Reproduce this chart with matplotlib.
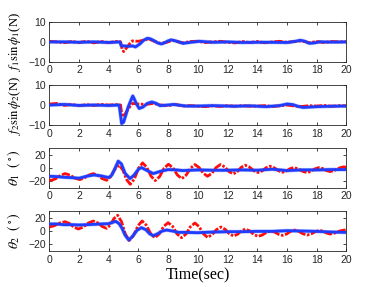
import matplotlib
matplotlib.use("Agg")
import matplotlib.pyplot as plt

# ---------------- data ----------------
t_f1_red = [0,0.5,1,1.5,2,2.5,3,3.5,4,4.5,4.8,4.9,5.0,5.2,5.4,5.6,6.0,6.4,6.7,7.0,7.5,8.0,8.3,8.7,9.0,9.5,10,10.5,11,11.5,12,12.5,13,13.5,14,14.5,15,15.5,16,16.5,17,17.5,18,18.5,19,19.5,20]
f1_red = [0.3,0,-0.4,0.2,-0.3,0.3,-0.5,0.2,-0.3,0.2,0,-3.5,-4.8,-3,-1,0.5,0.3,1,1.5,0.5,-0.8,0,0.8,0,-0.5,0.2,0.3,-0.3,0,0.3,-0.2,-0.5,0.2,-0.3,0.2,-0.4,0,0.3,-0.2,0.2,0.5,-0.4,0.2,-0.3,0.2,0,0.1]
t_f1_blue = [0,1,2,3,4,4.75,4.85,5.0,5.3,5.6,5.8,6.1,6.35,6.6,6.8,7.0,7.3,7.55,7.8,8.0,8.2,8.5,9.0,9.5,10.1,11,12,13,14,15,16,16.5,16.9,17.2,17.5,17.8,18.2,19,20]
f1_blue = [0,0,-0.2,0,-0.3,0,-2,-2,-2.2,-2,-2.5,-1,0.8,1.8,1.5,0.8,-0.5,-1,-0.3,0.5,1,0.5,-0.7,-0.2,0.3,-0.2,0,-0.3,-0.2,-0.2,-0.3,0.2,0.8,0.3,-0.7,-0.5,0,-0.1,0]

t_f2_red = [0,0.5,1,1.5,2,2.5,3,3.5,4,4.5,4.8,4.9,5.1,5.3,5.6,6.0,6.5,7.0,7.5,8,8.5,9,9.5,10,10.5,11,11.5,12,12.5,13,13.5,14,14.5,15,15.5,16,16.5,17,17.5,18,18.5,19,19.5,20]
f2_red = [0.5,0.8,-0.2,0.3,-0.3,0.2,-0.2,0.3,0,0.2,0,-5.8,-4.5,-2,0.8,0.5,0.3,0.8,0,-0.3,0.3,-0.5,-0.3,-0.6,-0.8,-0.4,-0.7,-0.3,-0.6,-0.3,-0.6,-0.5,-0.3,-0.7,-0.4,0,-0.5,-0.7,-0.3,-0.5,-0.2,-0.6,-0.3,-0.4]
t_f2_blue = [0,1,2,3,4,4.7,4.78,4.87,5.0,5.15,5.31,5.5,5.62,5.72,5.85,6.05,6.3,6.6,6.9,7.2,7.45,8.0,8.35,9.2,10.1,11,12.4,13.5,14.6,15.5,16.0,16.4,16.7,17.1,17.5,18,19,20]
f2_blue = [0,0.3,-0.2,0,-0.2,0,-4,-9.2,-8.5,-5,-1,2.5,4.5,3,0.8,-1.7,-1,0.8,1.5,0.8,-0.3,0,0.3,-0.5,-0.5,-0.3,-0.6,-0.4,-0.8,-0.3,0.5,0.2,-0.6,-1.2,-1,-0.8,-0.6,-0.5]

t_th1_red = [0,0.15,0.45,0.76,1.06,1.39,1.72,2.05,2.35,2.66,2.96,3.26,3.56,3.86,4.14,4.42,4.7,4.95,5.2,5.45,5.73,6.0,6.28,6.56,6.85,7.13,7.43,7.72,8.02,8.32,8.62,8.92,9.21,9.51,9.8,10.08,10.37,10.65,10.94,11.23,11.52,11.81,12.09,12.38,12.65,12.91,13.18,13.47,13.76,14.05,14.32,14.58,14.85,15.13,15.42,15.7,15.95,16.2,16.45,16.75,17.05,17.35,17.62,17.88,18.15,18.4,18.65,18.9,19.2,19.5,19.8,20]
th1_red = [-18,-18.5,-16,-11,-8.5,-10.75,-15.25,-17.5,-15.25,-10.75,-8.5,-11,-16,-18.5,-12.9,-1.6,4,-3.1,-17.4,-24.5,-16.5,-0.5,7.5,0.9,-12.4,-19,-12.9,-0.6,5.5,0.1,-10.6,-16,-10.75,-0.25,5,0.6,-8.1,-12.5,-8.1,0.6,5,1.5,-5.5,-9,-5.75,0.75,4,1.25,-4.25,-7,-4.6,0.1,2.5,0.25,-4.25,-6.5,-4.75,-1.25,0.5,-1.4,-5.1,-7,-5.1,-1.4,0.5,-1,-4,-5.5,-3.75,-0.25,1.5,1]
t_th1_blue = [0,0.5,1,1.5,2,2.5,3,3.5,4,4.2,4.4,4.64,4.85,5.1,5.43,5.7,6.0,6.2,6.5,7.0,7.5,8,8.5,9,10,11,12,13,14,15,16,17,18,19,20]
th1_blue = [-12.5,-13,-14,-14.5,-15.5,-12.5,-10.5,-12,-14.5,-11,-2,10,6,-8,-16,-11,-2,0.5,-3,-8.5,-5,-2.5,-3,-4,-3,-3.5,-3.5,-3,-3.5,-2,-4,-3,-3,-2.5,-2.5]

t_th2_red = [0,0.35,0.71,1.06,1.36,1.66,1.96,2.29,2.63,2.96,3.26,3.56,3.86,4.11,4.35,4.6,4.86,5.12,5.38,5.67,5.96,6.25,6.53,6.82,7.1,7.4,7.7,8.0,8.3,8.6,8.9,9.2,9.5,9.8,10.08,10.37,10.65,10.95,11.25,11.55,11.83,12.12,12.4,12.67,12.93,13.2,13.48,13.77,14.05,14.33,14.62,14.9,15.17,15.43,15.7,15.97,16.23,16.5,16.78,17.07,17.35,17.63,17.92,18.2,18.43,18.67,18.9,19.22,19.53,19.85,20]
th2_red = [6,8,12,14,11.25,5.75,3,6,12,15,12.25,6.75,4,8.9,18.6,23.5,14.1,-4.6,-14,-6.75,7.75,15,8.75,-3.75,-10,-4.4,6.9,12.5,6.9,-4.4,-10,-4.5,6.5,12,6.6,-4.1,-9.5,-5.6,2.1,6,2.6,-4.1,-7.5,-4.9,0.4,3,0.25,-5.25,-8,-6,-2,0,-1.6,-4.9,-6.5,-4.5,-0.5,1.5,-0.4,-4.1,-6,-4.25,-0.75,1,-0.4,-3.1,-4.5,-3,0,1.5,1]
t_th2_blue = [0,0.5,1,1.5,2,2.5,3,3.5,4,4.25,4.47,4.7,4.9,5.1,5.35,5.6,5.9,6.2,6.5,6.75,7.0,7.3,7.6,7.9,8.3,8.7,9.2,10,11,12,13,14,15,16,17,18,19,20]
th2_blue = [10.5,10.5,9.5,9.5,9,9.5,10,10.5,11,13,14.5,11,4,-6,-13.5,-8,1,5,2,-4,-7,-4,0,1.5,0,-2,-2,-2.5,-1.5,-1,-1,-0.5,-0.5,0.5,0,-0.5,-1.5,-2]

xticks = [0,2,4,6,8,10,12,14,16,18,20]
ylabels = [r'$f_1\sin\phi_1$(N)', r'$f_2\sin\phi_2$(N)', r'$\theta_1\ \ (^\circ)$', r'$\theta_2\ \ (^\circ)$']
ylims = [(-10,10),(-10,10),(-30,30),(-30,30)]
yticks = [[-10,0,10],[-10,0,10],[-20,0,20],[-20,0,20]]

# ---------------- plot ----------------
plt.rcParams['mathtext.fontset'] = 'stix'
plt.rcParams['font.family'] = ['Liberation Sans', 'DejaVu Sans']

fig = plt.figure(figsize=(3.82, 2.87), dpi=100)
bottoms = [0.784, 0.564, 0.345, 0.125]
series = [
    (t_f1_red, f1_red, t_f1_blue, f1_blue),
    (t_f2_red, f2_red, t_f2_blue, f2_blue),
    (t_th1_red, th1_red, t_th1_blue, th1_blue),
    (t_th2_red, th2_red, t_th2_blue, th2_blue),
]
gray = '#262626'
for i, (tr, vr, tb, vb) in enumerate(series):
    ax = fig.add_axes([0.129, bottoms[i], 0.778, 0.140])
    ax.plot(tb, vb, color='#aabaff', lw=2.8, solid_joinstyle='round', zorder=2)
    ax.plot(tr, vr, color='#ff0d0d', lw=2.0, dashes=(3.0, 0.6, 0.9, 0.6), zorder=3)
    ax.plot(tb, vb, color='#1f3cff', lw=2.0, solid_joinstyle='round', zorder=4)
    ax.set_xlim(0, 20)
    ax.set_ylim(*ylims[i])
    ax.set_xticks(xticks)
    ax.set_yticks(yticks[i])
    ax.tick_params(direction='in', length=2.5, width=0.6, labelsize=7.5,
                   top=True, right=True, colors=gray, pad=2.5)
    for s in ax.spines.values():
        s.set_color(gray)
        s.set_linewidth(0.6)
    fs = 9.2 if i < 2 else 10
    ax.set_ylabel(ylabels[i], fontsize=fs, family='Liberation Serif', labelpad=1)
    ax.yaxis.set_label_coords(-0.088, 0.5)
    if i == 3:
        ax.set_xlabel('Time(sec)', fontsize=11.5, family='Liberation Serif', labelpad=2)

fig.savefig('out.png', dpi=100)
